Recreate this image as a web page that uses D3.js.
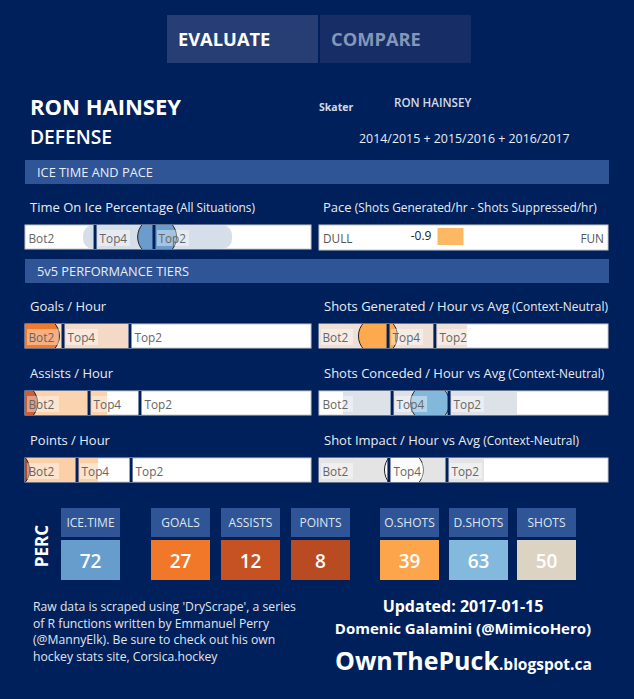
<!DOCTYPE html>
<html><head><meta charset="utf-8">
<script src="https://cdn.jsdelivr.net/npm/d3@7"></script>
<style>
html,body{margin:0;padding:0;background:#00205b;}
svg{display:block;}
text{font-family:"Open Sans","Noto Sans",sans-serif;}
</style></head>
<body>
<script>
// ---------- DATA ----------
const tabs = ["EVALUATE", "COMPARE"];
const playerName = "RON HAINSEY";
const position = "DEFENSE";
const seasons = "2014/2015 + 2015/2016 + 2016/2017";
const sections = ["ICE TIME AND PACE", "5v5 PERFORMANCE TIERS"];

const tierTitles = ["Time On Ice Percentage", "Goals / Hour", "Assists / Hour", "Points / Hour",
  "Shots Generated / Hour vs Avg", "Shots Conceded / Hour vs Avg", "Shot Impact / Hour vs Avg"];
const tierNotes = ["(All Situations)", "", "", "", "(Context-Neutral)", "(Context-Neutral)", "(Context-Neutral)"];
const tierLabels = ["Bot2", "Top4", "Top2"];
// positions on a 0-100 scale of each bar
const bandStart = [20.3, 0, 0, 0, 0, 8.3, 0];
const bandEnd = [72.4, 36.0, 28.7, 25.5, 51.2, 68.5, 57.1];
const top4Cut = [24.5, 13.3, 22.4, 18.2, 23.9, 25.3, 24.2];
const top2Cut = [45.1, 36.7, 40.2, 37.1, 40.1, 45.0, 44.3];
const playerValue = [46.2, 5.2, -2.4, -5.2, 20.4, 38.4, 29.4];

const paceTitle = "Pace";
const paceNote = "(Shots Generated/hr - Shots Suppressed/hr)";
const paceValue = -0.9;
const paceDomain = [-5, 5];
const paceEnds = ["DULL", "FUN"];

const percLabels = ["ICE.TIME", "GOALS", "ASSISTS", "POINTS", "O.SHOTS", "D.SHOTS", "SHOTS"];
const percValues = [72, 27, 12, 8, 39, 63, 50];

const creditLines = ["Raw data is scraped using 'DryScrape', a series",
  "of R functions written by Emmanuel Perry",
  "(@MannyElk). Be sure to check out his own",
  "hockey stats site, Corsica.hockey"];
const updated = "Updated: 2017-01-15";
const author = "Domenic Galamini (@MimicoHero)";

// ---------- STYLE ----------
const bg = "#00205b";
const sectionCol = "#2f5597";
const markerCol = "#00205b";
const bandCols = ["#d6deea", "#f3d9c6", "#fbd3ae", "#fbd0a8", "#eee0d6", "#dde2e8", "#e4e4e4"];
const circleCols = ["#6a9dcc", "#f07b2e", "#cd5f37", "#b94b23", "#fdaa4e", "#82b8db", "#fbfaf8"];
const percCols = ["#679dcc", "#f07828", "#c65224", "#b94b23", "#fda54b", "#82b9dc", "#ddd3c2"];

const W = 634, H = 699;
const svg = d3.select("body").append("svg").attr("width", W).attr("height", H);
svg.append("rect").attr("width", W).attr("height", H).attr("fill", bg);
const defs = svg.append("defs");

// Tabs
const tabX = d3.scaleBand().domain(tabs).range([167, 471]).paddingInner(0.013);
svg.selectAll(".tab").data(tabs).join("rect")
  .attr("x", d => tabX(d)).attr("y", 15).attr("width", tabX.bandwidth()).attr("height", 48)
  .attr("fill", (d, i) => i === 0 ? "#263e73" : "#162d66");
svg.selectAll(".tabt").data(tabs).join("text")
  .attr("x", d => tabX(d) + 11).attr("y", 45.5)
  .attr("fill", (d, i) => i === 0 ? "#ffffff" : "#8596b8")
  .attr("font-weight", 700).attr("font-size", 18.3)
  .text(d => d);

// Header
svg.append("text").attr("x", 30).attr("y", 115).attr("fill", "#fff")
  .attr("font-weight", 700).attr("font-size", 22).text(playerName);
svg.append("text").attr("x", 30).attr("y", 143.5).attr("fill", "#fff")
  .attr("font-weight", 600).attr("font-size", 19.2).text(position);
svg.append("text").attr("x", 319).attr("y", 111).attr("fill", "#d3dae6")
  .attr("font-weight", 700).attr("font-size", 10.5).text("Skater");
svg.append("text").attr("x", 394).attr("y", 107).attr("fill", "#d3dae6")
  .attr("font-size", 11.6).attr("font-weight", 600).text(playerName);
svg.append("text").attr("x", 359).attr("y", 143).attr("fill", "#e8ecf3")
  .attr("font-size", 12.4).text(seasons);

// Section headers
const secY = [160, 259];
sections.forEach((s, i) => {
  svg.append("rect").attr("x", 25).attr("y", secY[i]).attr("width", 584).attr("height", 24).attr("fill", sectionCol);
  svg.append("text").attr("x", 37).attr("y", secY[i] + 16.5).attr("fill", "#e8ecf3")
    .attr("font-size", 12.8).text(s);
});

// Panel positions
const colX = [25, 319], colW = [286, 289];
const panels = [
  {col: 0, y: 225}, {col: 0, y: 324}, {col: 0, y: 391}, {col: 0, y: 458},
  {col: 1, y: 324}, {col: 1, y: 391}, {col: 1, y: 458}
];
const barH = 24;

function title(x, y, main, note) {
  const t = svg.append("text").attr("x", x).attr("y", y).attr("fill", "#e8ecf3").attr("font-size", 13);
  t.append("tspan").text(main);
  if (note) t.append("tspan").attr("font-size", 11.9).text(" " + note);
}

tierTitles.forEach((tt, i) => {
  const p = panels[i];
  const x0 = colX[p.col], w = colW[p.col], y0 = p.y;
  const x = d3.scaleLinear().domain([0, 100]).range([x0, x0 + w]);
  title(x0 + 5, y0 - 13, tt, tierNotes[i]);
  const g = svg.append("g");
  const cid = "clip" + i;
  defs.append("clipPath").attr("id", cid).append("rect")
    .attr("x", x0).attr("y", y0).attr("width", w).attr("height", barH);
  g.append("rect").attr("x", x0).attr("y", y0).attr("width", w).attr("height", barH)
    .attr("fill", "#fff").attr("stroke", "#c8c8c8").attr("stroke-width", 1);
  const inner = g.append("g").attr("clip-path", `url(#${cid})`);
  inner.append("rect").attr("x", x(bandStart[i])).attr("y", y0)
    .attr("width", x(bandEnd[i]) - x(bandStart[i])).attr("height", barH)
    .attr("rx", i === 0 ? 10 : 0)
    .attr("fill", bandCols[i]);
  inner.append("circle").attr("cx", x(playerValue[i])).attr("cy", y0 + barH / 2).attr("r", 19.5)
    .attr("fill", circleCols[i]).attr("stroke", "#222").attr("stroke-width", 1);
  const lx = [x(0) + 2, x(top4Cut[i]) + 3, x(top2Cut[i]) + 3];
  tierLabels.forEach((lab, k) => {
    const tw = 32;
    inner.append("rect").attr("x", lx[k]).attr("y", y0 + 5).attr("width", tw).attr("height", 16)
      .attr("fill", "#fff").attr("opacity", 0.4);
    inner.append("text").attr("x", lx[k] + 1.5).attr("y", y0 + 17.5).attr("fill", "#666")
      .attr("font-size", 11.8).text(lab);
  });
  [top4Cut[i], top2Cut[i]].forEach(v => {
    inner.append("rect").attr("x", x(v) - 1.5).attr("y", y0).attr("width", 3).attr("height", barH).attr("fill", markerCol);
  });
});

// Pace panel
{
  const x0 = colX[1], w = colW[1], y0 = 225;
  const x = d3.scaleLinear().domain(paceDomain).range([x0, x0 + w]);
  title(x0 + 4, y0 - 13, paceTitle, paceNote);
  svg.append("rect").attr("x", x0).attr("y", y0).attr("width", w).attr("height", 25)
    .attr("fill", "#fff").attr("stroke", "#c8c8c8");
  svg.append("rect").attr("x", x(Math.min(paceValue, 0))).attr("y", y0 + 3)
    .attr("width", Math.abs(x(paceValue) - x(0))).attr("height", 17).attr("fill", "#fdb863");
  svg.append("text").attr("x", x(Math.min(paceValue, 0)) - 6).attr("y", y0 + 15).attr("text-anchor", "end")
    .attr("fill", "#222").attr("font-size", 12).text(d3.format(".1f")(paceValue).replace("−", "-"));
  svg.append("text").attr("x", x0 + 4).attr("y", y0 + 18).attr("fill", "#555").attr("font-size", 11.8).text(paceEnds[0]);
  svg.append("text").attr("x", x0 + w - 4).attr("y", y0 + 18).attr("text-anchor", "end").attr("fill", "#555").attr("font-size", 11.8).text(paceEnds[1]);
}

// PERC boxes
svg.append("text").attr("transform", "translate(48,546) rotate(-90)").attr("text-anchor", "middle")
  .attr("fill", "#fff").attr("font-weight", 700)
  .attr("font-size", 17).text("PERC");
const percX = [61, 151, 221, 291, 380, 449, 517];
percLabels.forEach((l, i) => {
  svg.append("rect").attr("x", percX[i]).attr("y", 508).attr("width", 59).attr("height", 29).attr("fill", sectionCol);
  svg.append("text").attr("x", percX[i] + 29.5).attr("y", 527).attr("text-anchor", "middle")
    .attr("fill", "#dfe5ef").attr("font-size", 12).text(l);
  svg.append("rect").attr("x", percX[i]).attr("y", 540).attr("width", 59).attr("height", 40).attr("fill", percCols[i]);
  svg.append("text").attr("x", percX[i] + 29.5).attr("y", 567.5).attr("text-anchor", "middle")
    .attr("fill", "#fff").attr("font-weight", 600)
    .attr("font-size", 19).text(percValues[i]);
});

// Credits
creditLines.forEach((l, i) => {
  svg.append("text").attr("x", 33).attr("y", 611 + i * 16.6).attr("fill", "#e0e5ee")
    .attr("font-size", 12.2).text(l);
});
svg.append("text").attr("x", 463).attr("y", 612).attr("text-anchor", "middle").attr("fill", "#fff")
  .attr("font-weight", 700).attr("font-size", 16).text(updated);
svg.append("text").attr("x", 463).attr("y", 634).attr("text-anchor", "middle").attr("fill", "#fff")
  .attr("font-weight", 700).attr("font-size", 15).text(author);
const brand = svg.append("text").attr("x", 335).attr("y", 670).attr("fill", "#fff")
  .attr("font-weight", 700);
brand.append("tspan").attr("font-size", 25).text("OwnThePuck");
brand.append("tspan").attr("font-size", 15.5).text(".blogspot.ca");
</script>
</body></html>
